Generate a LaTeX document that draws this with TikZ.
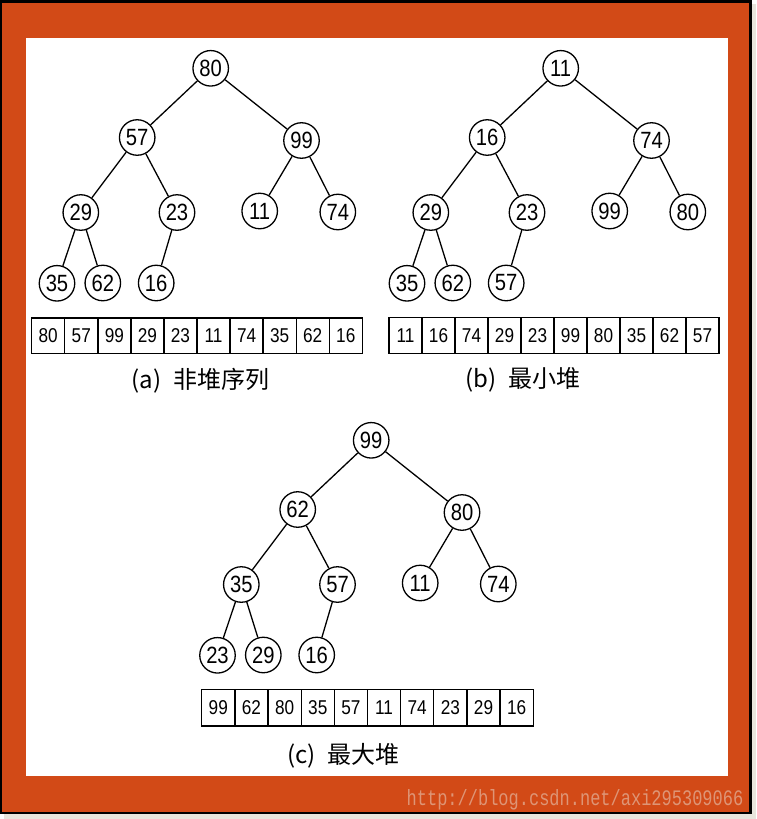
\documentclass[tikz,border=0pt]{standalone}
\usepackage{fontspec}
\usepackage{graphicx}
\setmainfont{Liberation Sans}
\newfontfamily\digitfont[FakeStretch=0.86]{Liberation Sans}
\newfontfamily\cjk{Noto Sans CJK SC}
\newfontfamily\wmfont{Liberation Mono}
\definecolor{frameorange}{HTML}{D24A17}
\definecolor{shadowbeige}{HTML}{E8E5DC}
\definecolor{wmcolor}{HTML}{DE9576}
\newcommand\heaptreedraw[2]{%
  \foreach \v [count=\i] in {#2}{%
    \pgfmathsetmacro\hx{{210.7,137.2,301.5,80.8,177,259.7,337.8,57,102.8,156.2}[\i-1]}%
    \pgfmathsetmacro\hy{{68.3,137.5,140.5,212.5,212.5,211,212,283.3,283,283}[\i-1]}%
    \node[hnode] (#1\i) at (\hx,\hy) {\v};
  }%
  \foreach \p/\c in {1/2,1/3,2/4,2/5,3/6,3/7,4/8,4/9,5/10}
    \draw[link] (#1\p) -- (#1\c);
}
\begin{document}
\begin{tikzpicture}[x=1pt,y=-1pt,
  hnode/.style={circle,draw,line width=1.3pt,minimum size=35.5pt,inner sep=0pt,
    font=\digitfont\fontsize{23.5}{23.5}\selectfont},
  cell/.style={draw,line width=1.3pt,minimum width=33pt,minimum height=35.5pt,
    inner sep=0pt,font=\digitfont\fontsize{20}{20}\selectfont},
  link/.style={line width=1.3pt},
  caption/.style={font=\cjk\fontsize{24}{24}\selectfont,inner sep=0pt}]
\useasboundingbox (0,0) rectangle (757,819);
% frame
\fill[white] (0,0) rectangle (757,819);
\fill[shadowbeige] (4,4) rectangle (755.5,818.5);
\fill[black] (0,0) rectangle (751.7,814.3);
\fill[frameorange] (2,2.7) rectangle (749.3,811.7);
\fill[white] (26,37.7) rectangle (728.3,775.7);
% trees
\heaptreedraw{a}{80,57,99,29,23,11,74,35,62,16}
\begin{scope}[shift={(350,0)}]
\heaptreedraw{b}{11,16,74,29,23,99,80,35,62,57}
\end{scope}
\begin{scope}[shift={(160.5,372)}]
\heaptreedraw{c}{99,62,80,35,57,11,74,23,29,16}
\end{scope}
% arrays
\foreach \v [count=\i] in {80,57,99,29,23,11,74,35,62,16}
  \node[cell] (aa\i) at ({31.7+33.06*(\i-0.5)},335.8) {\v};
\foreach \v [count=\i] in {11,16,74,29,23,99,80,35,62,57}
  \node[cell] (ba\i) at ({389+33.0*(\i-0.5)},335.5) {\v};
\foreach \v [count=\i] in {99,62,80,35,57,11,74,23,29,16}
  \node[cell,minimum width=33.16pt,minimum height=36.5pt] (ca\i) at ({201.7+33.16*(\i-0.5)},707.6) {\v};
% captions
\node[caption] (capa) at (200.5,381) {(a)\hspace{12pt}非堆序列};
\node[caption] (capb) at (523,379.5) {(b)\hspace{12pt}最小堆};
\node[caption] (capc) at (343.5,756) {(c)\hspace{12pt}最大堆};
% watermark
\node[anchor=base east,inner sep=0pt,text=wmcolor,font=\wmfont\fontsize{17}{17}\selectfont]
  (wm) at (743.5,805) {\scalebox{1}[1.3]{http://blog.csdn.net/axi295309066}};
\end{tikzpicture}
\end{document}
